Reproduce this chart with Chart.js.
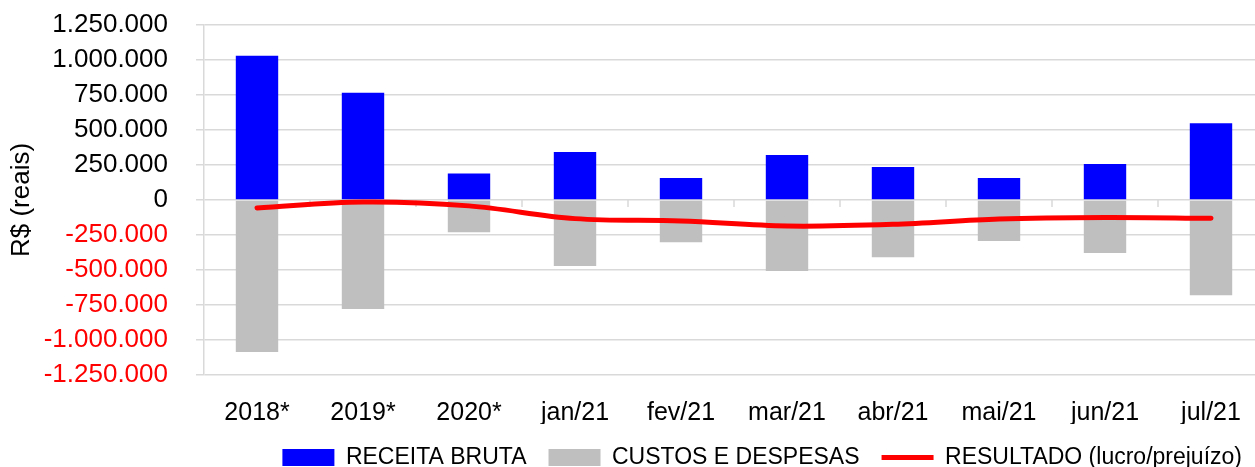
<!DOCTYPE html>
<html>
<head>
<meta charset="utf-8">
<script src="https://cdn.jsdelivr.net/npm/chart.js@4.4.1/dist/chart.umd.min.js"></script>
<style>
  html, body { margin: 0; padding: 0; background: #fff; overflow: hidden; }
  #wrap { position: relative; width: 1264px; height: 467px; }
</style>
</head>
<body>
<div id="wrap"><canvas id="c"></canvas></div>
<script>
"use strict";

const LABELS = ["2018*", "2019*", "2020*", "jan/21", "fev/21", "mar/21", "abr/21", "mai/21", "jun/21", "jul/21"];
const RECEITA = [1031000, 766000, 190000, 343000, 158000, 321000, 236000, 157000, 257000, 548000];
const CUSTOS = [-1086000, -779000, -231000, -471000, -302000, -507000, -409000, -293000, -379000, -681000];
const RESULTADO = [-57000, -14000, -42000, -133000, -150000, -186000, -174000, -136000, -125000, -131000];
const Y_MIN = -1250000, Y_MAX = 1250000, Y_STEP = 250000;

const BLUE = "#0000ff";
const GRAY = "#bfbfbf";
const RED = "#ff0000";
const GRID = "#d9d9d9";

Chart.defaults.font.family = '"Liberation Sans", Arial, sans-serif';
Chart.defaults.color = "#000";

// pt-BR style thousands: 1.250.000
function fmt(v) {
  const s = String(Math.abs(v)).replace(/\B(?=(\d{3})+(?!\d))/g, ".");
  return v < 0 ? "-" + s : s;
}

/* small tick marks on the zero line between categories */
const zeroTicks = {
  id: "zeroTicks",
  beforeDatasetsDraw(chart) {
    const { ctx, scales: { x, y } } = chart;
    const y0 = y.getPixelForValue(0);
    const step = x.getPixelForValue(1) - x.getPixelForValue(0);
    ctx.save();
    ctx.strokeStyle = GRID;
    ctx.lineWidth = 1.5;
    for (let i = 1; i < LABELS.length; i++) {
      const px = x.getPixelForValue(i) - step / 2;
      ctx.beginPath(); ctx.moveTo(px, y0); ctx.lineTo(px, y0 + 7); ctx.stroke();
    }
    ctx.restore();
  },
};

new Chart(document.getElementById("c"), {
  type: "bar",
  data: {
    labels: LABELS,
    datasets: [
      { label: "RECEITA BRUTA", data: RECEITA, backgroundColor: BLUE, stack: "bars",
        pointStyle: "rect", order: 1, barPercentage: 0.4, categoryPercentage: 1 },
      { label: "CUSTOS E DESPESAS", data: CUSTOS, backgroundColor: GRAY, stack: "bars",
        pointStyle: "rect", order: 1, barPercentage: 0.4, categoryPercentage: 1 },
      { type: "line", label: "RESULTADO (lucro/prejuízo)", data: RESULTADO, stack: "res",
        borderColor: RED, backgroundColor: RED, borderWidth: 5, borderCapStyle: "round",
        pointRadius: 0, pointStyle: "line", tension: 0.35, order: 0 },
    ],
  },
  options: {
    responsive: true,
    maintainAspectRatio: false,
    animation: false,
    layout: { padding: { top: 25, left: 0, right: 0, bottom: -12 } },
    scales: {
      x: {
        stacked: true,
        afterFit: (s) => { s.height = s.height - 19; },
        grid: { display: false },
        border: { display: false },
        ticks: { font: { size: 25 }, color: "#000", padding: 15 },
      },
      y: {
        stacked: true,
        min: Y_MIN, max: Y_MAX,
        afterFit: (s) => { s.width = 204; s.paddingTop = 0; s.paddingBottom = 0; },
        grid: { color: GRID, lineWidth: 1.5, tickLength: 8 },
        border: { display: true, color: GRID, width: 1.5 },
        ticks: {
          stepSize: Y_STEP,
          autoSkip: false,
          padding: 28,
          font: { size: 26 },
          color: (c) => (c.tick && c.tick.value < 0 ? RED : "#000"),
          callback: (v) => fmt(v),
        },
        title: { display: true, text: "R$ (reais)", font: { size: 26 }, color: "#000", padding: { top: 6, bottom: 0 } },
      },
    },
    plugins: {
      legend: {
        position: "bottom",
        align: "end",
        labels: {
          usePointStyle: true,
          pointStyleWidth: 52,
          boxHeight: 17,
          padding: 22,
          font: { size: 23 },
          color: "#000",
          sort: (a, b) => a.datasetIndex - b.datasetIndex,
        },
      },
      tooltip: { enabled: false },
    },
  },
  plugins: [zeroTicks],
});
</script>
</body>
</html>
